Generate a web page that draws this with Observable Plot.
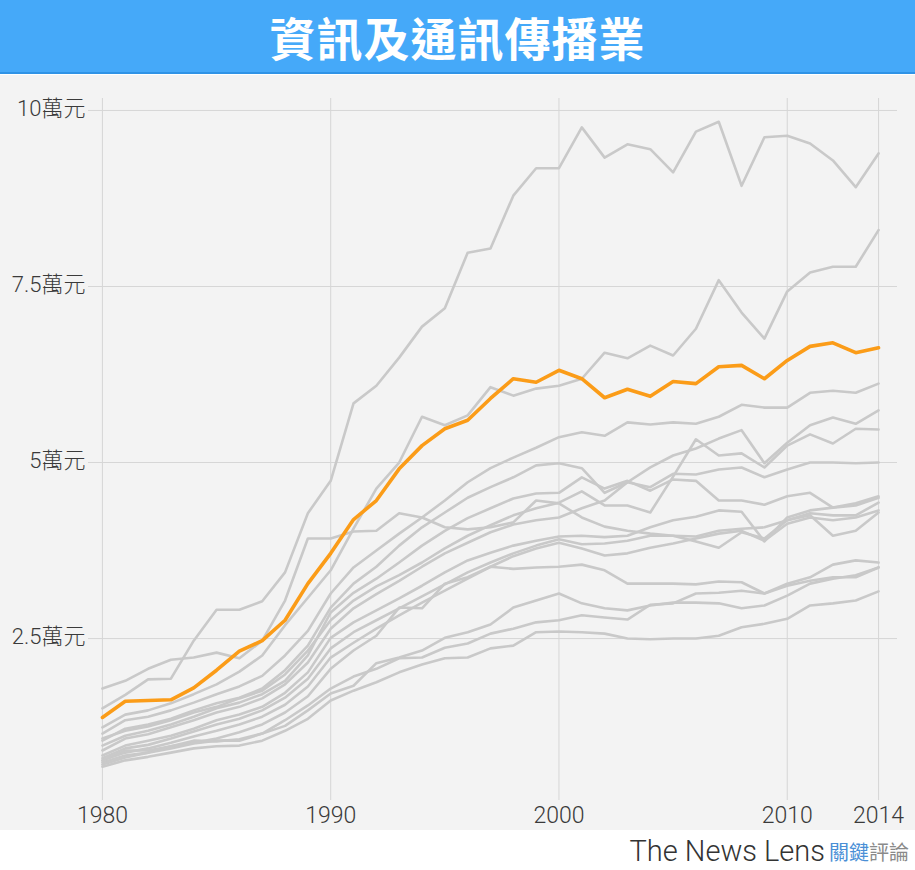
<!DOCTYPE html>
<html><head><meta charset="utf-8">
<script src="https://cdn.jsdelivr.net/npm/d3@7"></script>
<script src="https://cdn.jsdelivr.net/npm/@observablehq/plot@0.6"></script>
<style>
body{margin:0;background:#fff;width:915px;overflow:hidden;}
#title{height:72px;background:#45a9f9;border-bottom:2px solid #2f93e6;color:#fff;text-align:center;font:bold 46px "Noto Sans CJK TC",sans-serif;line-height:72px;letter-spacing:1px;}
#panel{background:#f3f3f3;height:755px;margin-top:1px;}
#panel svg text{font-weight:300;}
#footer{height:40px;text-align:right;padding-right:6px;padding-top:4px;white-space:nowrap;}
#footer .tnl{font:300 29px Roboto,sans-serif;color:#333;vertical-align:middle;}
#footer .cj{font:20px "Noto Sans CJK TC",sans-serif;vertical-align:middle;}
</style></head>
<body>
<div id="title">資訊及通訊傳播業</div>
<div id="panel"></div>
<div id="footer"><span class="tnl">The News Lens</span> <span class="cj" style="color:#4a8fd6">關鍵</span><span class="cj" style="color:#8a8a8a">評論</span></div>
<script>
const years = d3.range(1980, 2015);
const xTicks = [1980, 1990, 2000, 2010, 2014];
const yTicks = [2.5, 5, 7.5, 10];
const yUnit = "萬元";

// highlighted series (萬元)
const highlighted = [1.38,1.61,1.62,1.63,1.80,2.05,2.32,2.47,2.76,3.28,3.71,4.19,4.46,4.91,5.24,5.48,5.60,5.91,6.19,6.14,6.31,6.19,5.92,6.04,5.94,6.15,6.12,6.36,6.38,6.19,6.45,6.65,6.70,6.56,6.63];

// other series (萬元)
const s1  = [1.51,1.70,1.92,1.93,2.47,2.91,2.91,3.03,3.44,4.28,4.74,5.84,6.09,6.49,6.93,7.19,7.98,8.04,8.79,9.18,9.18,9.76,9.33,9.52,9.45,9.12,9.70,9.84,8.93,9.62,9.64,9.53,9.29,8.91,9.39];
const s2  = [1.24,1.42,1.48,1.58,1.71,1.85,2.03,2.26,2.69,3.08,3.47,4.06,4.63,5.00,5.65,5.53,5.67,6.07,5.95,6.05,6.09,6.19,6.56,6.48,6.66,6.52,6.90,7.59,7.13,6.76,7.43,7.70,7.78,7.78,8.30];
const s3  = [1.15,1.34,1.39,1.48,1.59,1.71,1.82,1.97,2.26,2.61,3.14,3.51,3.75,3.99,4.22,4.46,4.72,4.92,5.07,5.21,5.36,5.43,5.38,5.57,5.54,5.57,5.55,5.65,5.82,5.78,5.78,5.99,6.02,5.99,6.12];
const s4  = [0.91,1.08,1.14,1.24,1.34,1.45,1.53,1.65,1.85,2.16,2.64,2.93,3.13,3.32,3.52,3.71,3.86,4.01,4.12,4.18,4.22,4.35,4.46,4.72,4.93,5.10,5.20,5.34,5.46,4.99,5.28,5.53,5.64,5.55,5.74];
const s5  = [1.08,1.19,1.25,1.34,1.45,1.53,1.65,1.76,1.99,2.33,2.76,3.04,3.24,3.40,3.58,3.78,3.96,4.11,4.25,4.35,4.43,4.59,4.39,4.39,4.29,4.80,5.33,5.10,5.13,4.93,5.24,5.40,5.27,5.48,5.47];
const s6  = [1.05,1.22,1.28,1.36,1.48,1.58,1.66,1.79,2.05,2.40,2.94,3.28,3.52,3.82,4.08,4.29,4.50,4.65,4.79,4.96,4.99,4.92,4.57,4.72,4.65,4.84,4.83,4.90,4.93,4.79,4.90,5.00,5.00,4.99,5.00];
const s7  = [0.98,1.12,1.19,1.28,1.39,1.51,1.59,1.71,1.90,2.26,2.87,3.15,3.35,3.58,3.82,4.03,4.21,4.35,4.49,4.56,4.57,4.79,4.63,4.74,4.60,4.76,4.74,4.46,4.46,4.40,4.52,4.57,4.36,4.39,4.50];
const s8  = [1.79,1.90,2.07,2.20,2.23,2.30,2.22,2.47,3.04,3.92,3.92,4.02,4.03,4.28,4.22,4.08,4.05,4.08,4.15,4.46,4.42,4.22,4.09,4.03,3.99,3.96,3.88,3.79,4.01,3.92,4.18,4.25,3.96,4.03,4.29];
const s9  = [0.84,0.98,1.05,1.12,1.22,1.34,1.42,1.53,1.73,2.02,2.51,2.73,2.90,3.07,3.25,3.44,3.61,3.72,3.82,3.89,3.95,3.96,3.94,3.96,4.08,4.18,4.23,4.32,4.30,3.88,4.22,4.32,4.36,4.42,4.52];
const s10 = [0.80,0.94,0.99,1.08,1.18,1.28,1.36,1.48,1.66,1.93,2.36,2.59,2.76,2.93,3.10,3.27,3.44,3.58,3.71,3.82,3.91,3.84,3.85,3.89,3.96,3.96,3.95,4.03,4.06,4.08,4.18,4.28,4.25,4.25,4.43];
const s11 = [0.77,0.88,0.94,1.02,1.11,1.19,1.28,1.39,1.56,1.82,2.23,2.44,2.64,2.83,3.01,3.18,3.35,3.52,3.67,3.78,3.86,3.78,3.68,3.71,3.79,3.85,3.92,3.99,4.03,3.89,4.13,4.22,4.18,4.22,4.32];
const s12 = [0.74,0.84,0.88,0.97,1.02,1.08,1.17,1.28,1.45,1.68,2.07,2.33,2.54,2.94,2.93,3.28,3.37,3.52,3.49,3.51,3.52,3.55,3.47,3.28,3.28,3.28,3.27,3.31,3.30,3.14,3.28,3.37,3.55,3.61,3.58];
const s13 = [0.71,0.81,0.88,0.94,1.01,1.05,1.05,1.15,1.26,1.48,1.72,1.83,2.15,2.23,2.33,2.51,2.59,2.70,2.94,3.04,3.14,3.00,2.93,2.90,2.97,3.01,3.01,3.00,2.93,2.97,3.11,3.28,3.35,3.40,3.51];
const s14 = [0.77,0.91,0.91,0.97,1.05,1.04,1.07,1.15,1.34,1.55,1.79,1.96,2.07,2.22,2.23,2.37,2.43,2.57,2.64,2.73,2.76,2.83,2.80,2.77,2.98,3.00,3.14,3.15,3.18,3.14,3.25,3.32,3.37,3.37,3.51];
const s15 = [0.68,0.77,0.82,0.88,0.94,0.97,0.98,1.05,1.19,1.36,1.62,1.76,1.88,2.02,2.13,2.22,2.23,2.36,2.40,2.59,2.60,2.59,2.57,2.50,2.49,2.50,2.50,2.54,2.66,2.71,2.78,2.97,3.00,3.04,3.17];

const others = [s1,s2,s3,s4,s5,s6,s7,s8,s9,s10,s11,s12,s13,s14,s15];
const grayRows = others.flatMap((s, i) => s.map((v, j) => ({series: "s" + (i + 1), year: years[j], value: v})));
const hiRows = highlighted.map((v, j) => ({year: years[j], value: v}));

const chart = Plot.plot({
  width: 915, height: 755,
  marginTop: 23, marginBottom: 30, marginLeft: 88, marginRight: 18,
  style: {background: "transparent", fontFamily: "Roboto, 'Noto Sans CJK TC', sans-serif", overflow: "visible", color: "#3a3a3a"},
  x: {domain: [1979.39, 2014.83], label: null},
  y: {domain: [0.2, 10.17], label: null},
  marks: [
    Plot.gridX(xTicks, {stroke: "#d6d6d6", strokeOpacity: 1, strokeWidth: 1}),
    Plot.gridY(yTicks, {stroke: "#d6d6d6", strokeOpacity: 1, strokeWidth: 1}),
    Plot.line(grayRows, {x: "year", y: "value", z: "series", stroke: "#c9c9c9", strokeWidth: 2.6, strokeLinejoin: "round"}),
    Plot.line(hiRows, {x: "year", y: "value", stroke: "#fb9c18", strokeWidth: 3.6, strokeLinejoin: "round"}),
    Plot.axisY(yTicks, {label: null, tickSize: 0, tickPadding: 3, tickFormat: d => d + yUnit, fontSize: 22, dy: -2, fill: "#3a3a3a", fontWeight: 300}),
    Plot.axisX(xTicks, {label: null, tickSize: 0, tickPadding: 6, tickFormat: d => String(d), fontSize: 23, fill: "#3a3a3a", fontWeight: 300})
  ]
});
document.getElementById("panel").appendChild(chart);
</script>
</body></html>
